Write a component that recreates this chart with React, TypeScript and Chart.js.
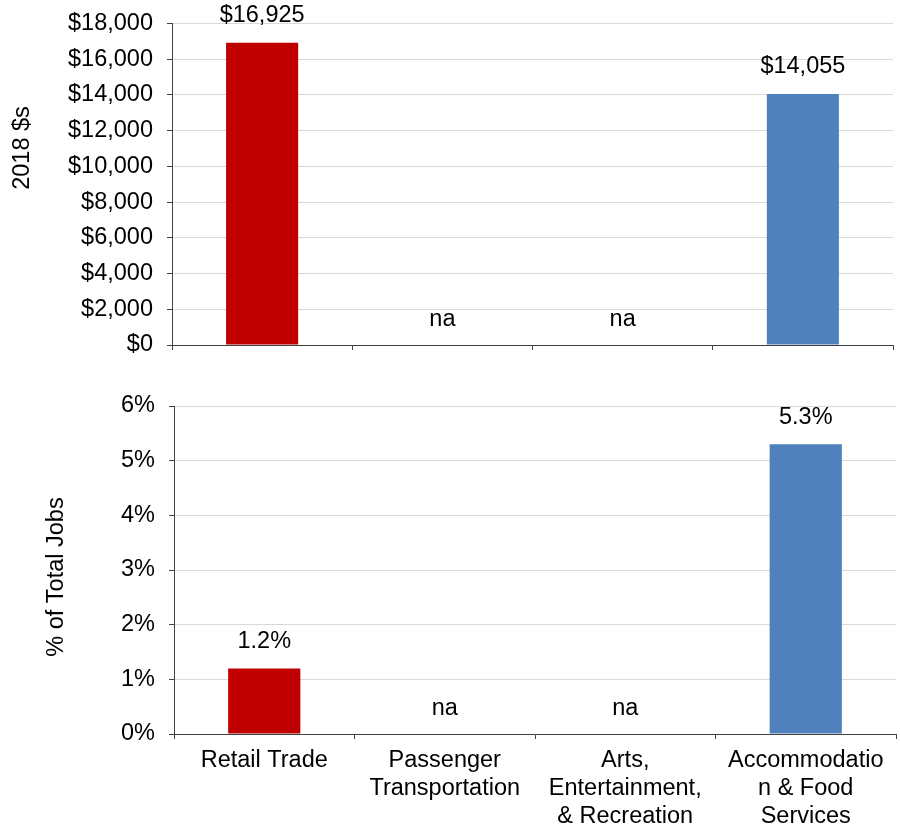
import React, { useEffect, useRef } from 'react';
import { Chart, registerables } from 'chart.js';

Chart.register(...registerables);

const categories: string[][] = [
  ['Retail Trade'],
  ['Passenger', 'Transportation'],
  ['Arts,', 'Entertainment,', '& Recreation'],
  ['Accommodatio', 'n & Food', 'Services'],
];
const earnings: (number | null)[] = [16925, null, null, 14055];
const jobShare: (number | null)[] = [1.2, null, null, 5.3];
const barColors = ['#C00000', '#C00000', '#4F81BD', '#4F81BD'];
const earningsAxis = { min: 0, max: 18000, step: 2000, title: '2018 $s' };
const jobAxis = { min: 0, max: 6, step: 1, title: '% of Total Jobs' };

const FONT = '"Liberation Sans", Arial, Helvetica, sans-serif';
const FONT_SIZE = 23.5;

const fmtMoney = (v: number | null) => (v == null ? 'na' : '$' + v.toLocaleString('en-US'));
const fmtPct = (v: number | null) => (v == null ? 'na' : v.toFixed(1) + '%');

const overlayPlugin = {
  id: 'overlay',
  afterDatasetsDraw(chart: any, _args: any, opts: any) {
    const { ctx } = chart;
    const xs = chart.scales.x;
    const ys = chart.scales.y;
    const data = chart.data.datasets[0].data as (number | null)[];
    ctx.save();
    ctx.font = `${FONT_SIZE}px ${FONT}`;
    ctx.fillStyle = '#000';
    ctx.textAlign = 'center';
    ctx.textBaseline = 'middle';
    data.forEach((v, i) => {
      const x = xs.getPixelForValue(i);
      const y = ys.getPixelForValue(v == null ? 0 : v);
      ctx.fillText(opts.format(v), x, y - (v == null ? 25 : 27));
    });
    ctx.translate(opts.titleX, opts.titleY);
    ctx.rotate(-Math.PI / 2);
    ctx.fillText(opts.title, 0, 0);
    ctx.restore();
  },
};

function makeConfig(
  values: (number | null)[],
  axis: { min: number; max: number; step: number; title: string },
  tickFmt: (v: number) => string,
  labelFmt: (v: number | null) => string,
  opts: { yWidth: number; padding: any; showX: boolean; xHeight: number; titleX: number; titleY: number }
): any {
  return {
    type: 'bar',
    data: {
      labels: categories,
      datasets: [
        {
          data: values,
          backgroundColor: barColors,
          borderWidth: 0,
          barPercentage: 0.4,
          categoryPercentage: 1,
        },
      ],
    },
    options: {
      animation: false,
      responsive: false,
      layout: { padding: opts.padding },
      plugins: {
        legend: { display: false },
        tooltip: { enabled: false },
        overlay: { format: labelFmt, title: axis.title, titleX: opts.titleX, titleY: opts.titleY },
      },
      scales: {
        x: {
          grid: { drawOnChartArea: false, drawTicks: true, tickLength: 5, tickColor: '#404040', offset: true },
          border: { color: '#404040', width: 1 },
          ticks: {
            display: opts.showX,
            color: '#000',
            font: { family: FONT, size: FONT_SIZE, lineHeight: 1.18 },
            padding: 8,
            maxRotation: 0,
            autoSkip: false,
          },
          afterFit: (s: any) => {
            s.height = opts.xHeight;
            s.paddingLeft = 0;
            s.paddingRight = 0;
          },
        },
        y: {
          min: axis.min,
          max: axis.max,
          grid: { color: '#d9d9d9', tickColor: '#404040', tickLength: 5, lineWidth: 1 },
          border: { color: '#404040', width: 1 },
          ticks: {
            stepSize: axis.step,
            color: '#000',
            font: { family: FONT, size: FONT_SIZE },
            padding: 14,
            callback: (v: any) => tickFmt(Number(v)),
          },
          afterFit: (s: any) => {
            s.width = opts.yWidth;
            s.paddingTop = 0;
            s.paddingBottom = 0;
          },
        },
      },
    },
    plugins: [overlayPlugin],
  };
}

export default function App() {
  const topRef = useRef<HTMLCanvasElement>(null);
  const botRef = useRef<HTMLCanvasElement>(null);

  useEffect(() => {
    const top = new Chart(
      topRef.current!,
      makeConfig(
        earnings,
        earningsAxis,
        (v) => '$' + v.toLocaleString('en-US'),
        fmtMoney,
        { yWidth: 172, padding: { top: 23.5, right: 7, bottom: 12, left: 0 }, showX: false, xHeight: 5, titleX: 23, titleY: 148 }
      )
    );
    const bot = new Chart(
      botRef.current!,
      makeConfig(
        jobShare,
        jobAxis,
        (v) => v + '%',
        fmtPct,
        { yWidth: 174, padding: { top: 26, right: 4, bottom: 0, left: 0 }, showX: true, xHeight: 93, titleX: 57, titleY: 197 }
      )
    );
    return () => {
      top.destroy();
      bot.destroy();
    };
  }, []);

  return (
    <div style={{ position: 'absolute', left: 0, top: 0, width: 900, height: 827, background: '#fff' }}>
      <canvas ref={topRef} width={900} height={362} style={{ position: 'absolute', left: 0, top: 0, display: 'block' }} />
      <canvas ref={botRef} width={900} height={447} style={{ position: 'absolute', left: 0, top: 380, display: 'block' }} />
    </div>
  );
}
